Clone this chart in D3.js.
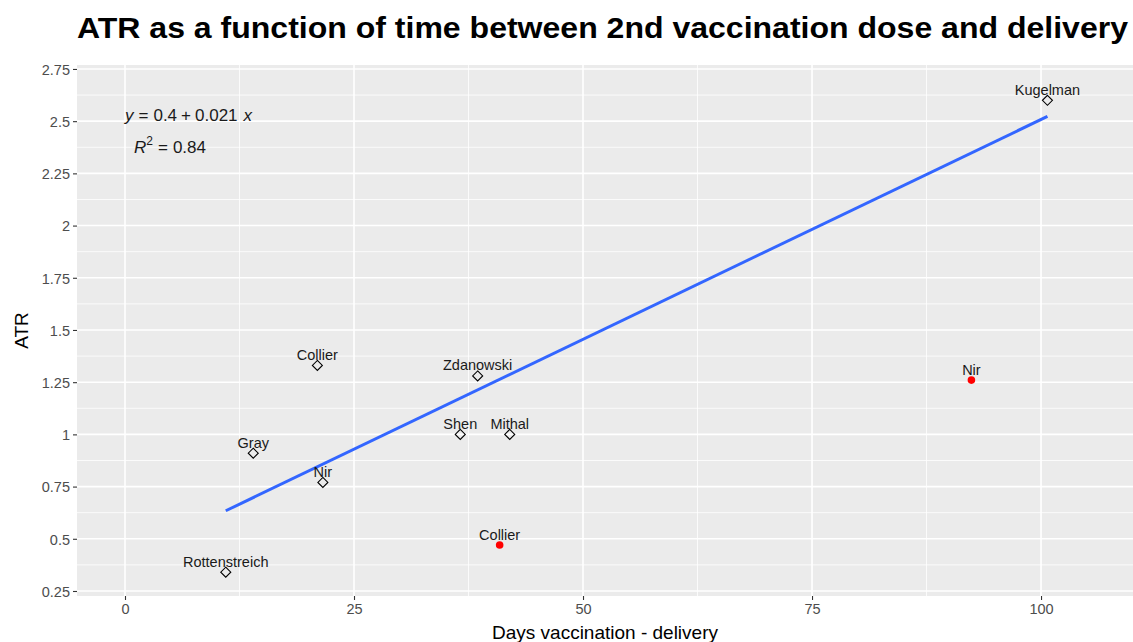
<!DOCTYPE html>
<html>
<head>
<meta charset="utf-8">
<script src="https://cdn.jsdelivr.net/npm/d3@7"></script>
<style>
  body { margin: 0; background: #fff; }
  text { font-family: "Liberation Sans", Arial, Helvetica, sans-serif; }
</style>
</head>
<body>
<div id="chart"></div>
<script>
// data
const studies = ["Rottenstreich", "Gray", "Collier", "Nir", "Shen", "Zdanowski", "Mithal", "Kugelman", "Collier", "Nir"];
const days = [11.0, 14.0, 21.0, 21.6, 36.6, 38.5, 42.0, 100.7, 40.9, 92.4];
const atr = [0.34, 0.91, 1.33, 0.77, 1.0, 1.28, 1.0, 2.6, 0.47, 1.26];
// red points are left out of the fit
const outlier = [false, false, false, false, false, false, false, false, true, true];

const xTicks = [0, 25, 50, 75, 100];
const yTicks = [0.25, 0.5, 0.75, 1, 1.25, 1.5, 1.75, 2, 2.25, 2.5, 2.75];
const yTickLabels = ["0.25", "0.5", "0.75", "1", "1.25", "1.5", "1.75", "2", "2.25", "2.5", "2.75"];

const width = 1133;
const height = 642;
const panel = { left: 77, right: 1133, top: 65, bottom: 596 };

const points = studies.map((s, i) => ({
  study: s,
  days: days[i],
  atr: atr[i],
  outlier: outlier[i],
}));

// least squares on the kept points
const fitPts = points.filter((d) => !d.outlier);
const mx = d3.mean(fitPts, (d) => d.days);
const my = d3.mean(fitPts, (d) => d.atr);
const sxy = d3.sum(fitPts, (d) => (d.days - mx) * (d.atr - my));
const sxx = d3.sum(fitPts, (d) => (d.days - mx) ** 2);
const slope = sxy / sxx;
const intercept = my - slope * mx;
const xFitMin = d3.min(fitPts, (d) => d.days);
const xFitMax = d3.max(fitPts, (d) => d.days);

const x = d3.scaleLinear().domain([-5.24, 110.04]).range([panel.left, panel.right]);
const y = d3.scaleLinear().domain([0.226, 2.769]).range([panel.bottom, panel.top]);

const svg = d3
  .select("#chart")
  .append("svg")
  .attr("width", width)
  .attr("height", height);

// panel background
svg
  .append("rect")
  .attr("x", panel.left)
  .attr("y", panel.top)
  .attr("width", panel.right - panel.left)
  .attr("height", panel.bottom - panel.top)
  .attr("fill", "#EBEBEB");

const grid = svg.append("g");

// minor grid
const xMinor = xTicks.slice(0, -1).map((t) => t + 12.5);
const yMinor = yTicks.slice(0, -1).map((t) => t + 0.125);
grid
  .selectAll(".xminor")
  .data(xMinor)
  .enter()
  .append("line")
  .attr("x1", (d) => x(d))
  .attr("x2", (d) => x(d))
  .attr("y1", panel.top)
  .attr("y2", panel.bottom)
  .attr("stroke", "#fff")
  .attr("stroke-width", 0.8);
grid
  .selectAll(".yminor")
  .data(yMinor)
  .enter()
  .append("line")
  .attr("x1", panel.left)
  .attr("x2", panel.right)
  .attr("y1", (d) => y(d))
  .attr("y2", (d) => y(d))
  .attr("stroke", "#fff")
  .attr("stroke-width", 0.8);

// major grid
grid
  .selectAll(".xmajor")
  .data(xTicks)
  .enter()
  .append("line")
  .attr("x1", (d) => x(d))
  .attr("x2", (d) => x(d))
  .attr("y1", panel.top)
  .attr("y2", panel.bottom)
  .attr("stroke", "#fff")
  .attr("stroke-width", 1.6);
grid
  .selectAll(".ymajor")
  .data(yTicks)
  .enter()
  .append("line")
  .attr("x1", panel.left)
  .attr("x2", panel.right)
  .attr("y1", (d) => y(d))
  .attr("y2", (d) => y(d))
  .attr("stroke", "#fff")
  .attr("stroke-width", 1.6);

// axes
const xAxis = svg
  .append("g")
  .attr("transform", `translate(0,${panel.bottom})`)
  .call(d3.axisBottom(x).tickValues(xTicks).tickSize(4).tickPadding(4).tickFormat(d3.format("d")));
const yAxis = svg
  .append("g")
  .attr("transform", `translate(${panel.left},0)`)
  .call(
    d3
      .axisLeft(y)
      .tickValues(yTicks)
      .tickSize(4)
      .tickPadding(3)
      .tickFormat((d, i) => yTickLabels[i])
  );
[xAxis, yAxis].forEach((ax) => {
  ax.select(".domain").remove();
  ax.selectAll(".tick line").attr("stroke", "#333333").attr("stroke-width", 1.1);
  ax.selectAll(".tick text")
    .attr("fill", "#4D4D4D")
    .style("font-size", "14.5px")
    .style("font-family", '"Liberation Sans", Arial, sans-serif');
});
yAxis.selectAll(".tick text").attr("dy", "0.36em");

// regression line
svg
  .append("line")
  .attr("x1", x(xFitMin))
  .attr("y1", y(intercept + slope * xFitMin))
  .attr("x2", x(xFitMax))
  .attr("y2", y(intercept + slope * xFitMax))
  .attr("stroke", "#3366FF")
  .attr("stroke-width", 3);

// points
const kept = points.filter((d) => !d.outlier);
const dropped = points.filter((d) => d.outlier);
svg
  .selectAll(".diamond")
  .data(kept)
  .enter()
  .append("path")
  .attr("d", "M0,-5L5,0L0,5L-5,0Z")
  .attr("transform", (d) => `translate(${x(d.days)},${y(d.atr)})`)
  .attr("fill", "none")
  .attr("stroke", "#000")
  .attr("stroke-width", 1.1);
svg
  .selectAll(".reddot")
  .data(dropped)
  .enter()
  .append("circle")
  .attr("cx", (d) => x(d.days))
  .attr("cy", (d) => y(d.atr))
  .attr("r", 3.8)
  .attr("fill", "#FF0000");

// study labels
svg
  .selectAll(".lbl")
  .data(points)
  .enter()
  .append("text")
  .attr("x", (d) => x(d.days))
  .attr("y", (d) => y(d.atr) - 5.5)
  .attr("text-anchor", "middle")
  .style("font-size", "14.5px")
  .attr("fill", "#1a1a1a")
  .text((d) => d.study);

// equation label, plotmath-like spacing around operators
const eq = svg
  .append("text")
  .attr("x", x(0))
  .attr("y", y(2.5))
  .style("font-size", "17px")
  .attr("fill", "#1a1a1a");
eq.append("tspan").style("font-style", "italic").text("y");
eq.append("tspan").attr("dx", 5).text("=");
eq.append("tspan").attr("dx", 5).text(d3.format(".1f")(intercept));
eq.append("tspan").attr("dx", 4).text("+");
eq.append("tspan").attr("dx", 4).text(d3.format(".3f")(slope));
eq.append("tspan").attr("dx", 6).style("font-style", "italic").text("x");

// r squared
const ssTot = d3.sum(fitPts, (d) => (d.atr - my) ** 2);
const ssRes = d3.sum(fitPts, (d) => (d.atr - (intercept + slope * d.days)) ** 2);
const r2 = 1 - ssRes / ssTot;
const r2Text = svg
  .append("text")
  .attr("x", x(0) + 9)
  .attr("y", y(2.5) + 32)
  .style("font-size", "17px")
  .attr("fill", "#1a1a1a");
r2Text.append("tspan").style("font-style", "italic").text("R");
r2Text.append("tspan").attr("dy", -8).style("font-size", "12px").text("2");
r2Text.append("tspan").attr("dy", 8).attr("dx", 5).text("=");
r2Text.append("tspan").attr("dx", 5).text(d3.format(".2f")(r2));

// titles
svg
  .append("text")
  .attr("x", panel.left)
  .attr("y", 38)
  .style("font-size", "30px")
  .style("font-weight", "bold")
  .attr("fill", "#000")
  .attr("textLength", 1051)
  .attr("lengthAdjust", "spacingAndGlyphs")
  .text("ATR as a function of time between 2nd vaccination dose and delivery");

svg
  .append("text")
  .attr("x", (panel.left + panel.right) / 2)
  .attr("y", 639)
  .attr("text-anchor", "middle")
  .style("font-size", "19px")
  .attr("fill", "#000")
  .text("Days vaccination - delivery");

svg
  .append("text")
  .attr("transform", `translate(28,${(panel.top + panel.bottom) / 2}) rotate(-90)`)
  .attr("text-anchor", "middle")
  .style("font-size", "19px")
  .attr("fill", "#000")
  .text("ATR");
</script>
</body>
</html>
